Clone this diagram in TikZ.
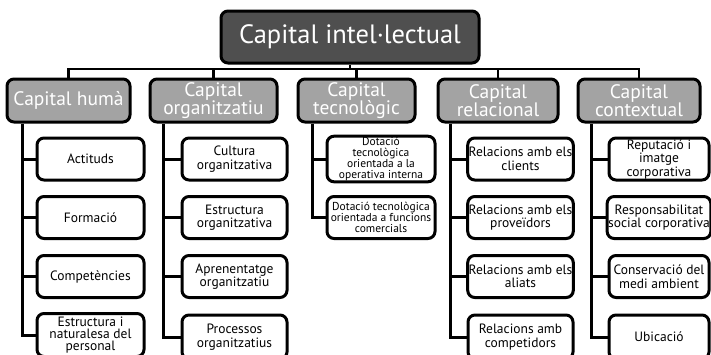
\documentclass[tikz,border=0pt]{standalone}
\usepackage{fontspec}
\setmainfont{PT Sans}
\definecolor{topfill}{HTML}{4F4F4F}
\definecolor{midfill}{HTML}{A3A3A3}
\begin{document}
\begin{tikzpicture}[x=1pt,y=-1pt,
  box/.style={draw=black,line width=3pt,rounded corners=7pt,align=center,inner sep=1pt},
  topbox/.style={box,fill=topfill,text=white,minimum width=258pt,minimum height=52pt,font=\fontsize{26.5}{28}\selectfont},
  midbox/.style={box,fill=midfill,text=white,minimum height=43pt,font=\fontsize{19.5}{18.5}\selectfont},
  leaf/.style={box,fill=white,text=black,minimum height=42pt,font=\fontsize{13.5}{13.5}\selectfont},
  tleaf/.style={leaf,font=\fontsize{11.5}{11}\selectfont},
  bus/.style={line width=2.2pt},
  branch/.style={line width=3pt}]
\useasboundingbox (0,0) rectangle (711,354);
\clip (0,0) rectangle (711,354);
\fill[white] (0,0) rectangle (711,354);
\coordinate (bus) at (0,69);
\node[topbox] (top) at (350,37) {Capital intel·lectual};
\node[midbox,minimum width=123pt] (hum) at (68.5,100.5) {Capital humà};
\node[midbox,minimum width=127pt] (org) at (213.5,100.5) {Capital\\organitzatiu};
\node[midbox,minimum width=117pt] (tec) at (356.5,100.5) {Capital\\tecnològic};
\node[midbox,minimum width=120pt] (rel) at (498,100.5) {Capital\\relacional};
\node[midbox,minimum width=122pt] (ctx) at (639,100.5) {Capital\\contextual};
% leaves
\node[leaf,minimum width=107pt] (h1) at (90.5,159) {Actituds};
\node[leaf,minimum width=107pt] (h2) at (90.5,217.5) {Formació};
\node[leaf,minimum width=107pt] (h3) at (90.5,276.5) {Competències};
\node[leaf,minimum width=107pt,minimum height=43pt,font=\fontsize{13.5}{12}\selectfont] (h4) at (90.5,335) {Estructura i\\naturalesa del\\personal};
\node[leaf,minimum width=105pt] (o1) at (234.5,159) {Cultura\\organitzativa};
\node[leaf,minimum width=105pt] (o2) at (234.5,217.5) {Estructura\\organitzativa};
\node[leaf,minimum width=105pt] (o3) at (234.5,276.5) {Aprenentatge\\organitzatiu};
\node[leaf,minimum width=105pt,minimum height=44pt] (o4) at (234.5,337) {Processos\\organitzatius};
\node[tleaf,minimum width=108pt] (t1) at (381,159) {Dotació\\tecnològica\\orientada a la\\operativa interna};
\node[tleaf,minimum width=108pt] (t2) at (381,217.5) {Dotació tecnològica\\orientada a funcions\\comercials};
\node[leaf,minimum width=105pt] (r1) at (520.5,159) {Relacions amb els\\clients};
\node[leaf,minimum width=105pt] (r2) at (520.5,217.5) {Relacions amb els\\proveïdors};
\node[leaf,minimum width=105pt] (r3) at (520.5,276.5) {Relacions amb els\\aliats};
\node[leaf,minimum width=105pt,minimum height=44pt] (r4) at (520.5,337) {Relacions amb\\competidors};
\node[leaf,minimum width=100pt] (c1) at (659,159) {Reputació i\\imatge\\corporativa};
\node[leaf,minimum width=100pt] (c2) at (659,217.5) {Responsabilitat\\social corporativa};
\node[leaf,minimum width=100pt] (c3) at (659,276.5) {Conservació del\\medi ambient};
\node[leaf,minimum width=100pt,minimum height=44pt] (c4) at (659,337) {Ubicació};
% bus
\draw[bus] (top.south) -- (top.south |- bus);
\draw[bus] (hum.north) -- (hum.north |- bus) -- (ctx.north |- bus) -- (ctx.north);
\draw[bus] (org.north) -- (org.north |- bus);
\draw[bus] (tec.north) -- (tec.north |- bus);
\draw[bus] (rel.north) -- (rel.north |- bus);
% branches
\coordinate (hv) at (22,0);
\coordinate (ov) at (163,0);
\coordinate (tv) at (312,0);
\coordinate (rv) at (450,0);
\coordinate (cv) at (591,0);
\draw[branch] (hv |- hum.south) |- (h4.west);
\draw[branch] (hv |- h1.west) -- (h1.west);
\draw[branch] (hv |- h2.west) -- (h2.west);
\draw[branch] (hv |- h3.west) -- (h3.west);
\draw[branch] (ov |- org.south) |- (o4.west);
\draw[branch] (ov |- o1.west) -- (o1.west);
\draw[branch] (ov |- o2.west) -- (o2.west);
\draw[branch] (ov |- o3.west) -- (o3.west);
\draw[branch] (tv |- tec.south) |- (t2.west);
\draw[branch] (tv |- t1.west) -- (t1.west);
\draw[branch] (rv |- rel.south) |- (r4.west);
\draw[branch] (rv |- r1.west) -- (r1.west);
\draw[branch] (rv |- r2.west) -- (r2.west);
\draw[branch] (rv |- r3.west) -- (r3.west);
\draw[branch] (cv |- ctx.south) |- (c4.west);
\draw[branch] (cv |- c1.west) -- (c1.west);
\draw[branch] (cv |- c2.west) -- (c2.west);
\draw[branch] (cv |- c3.west) -- (c3.west);
\end{tikzpicture}
\end{document}
